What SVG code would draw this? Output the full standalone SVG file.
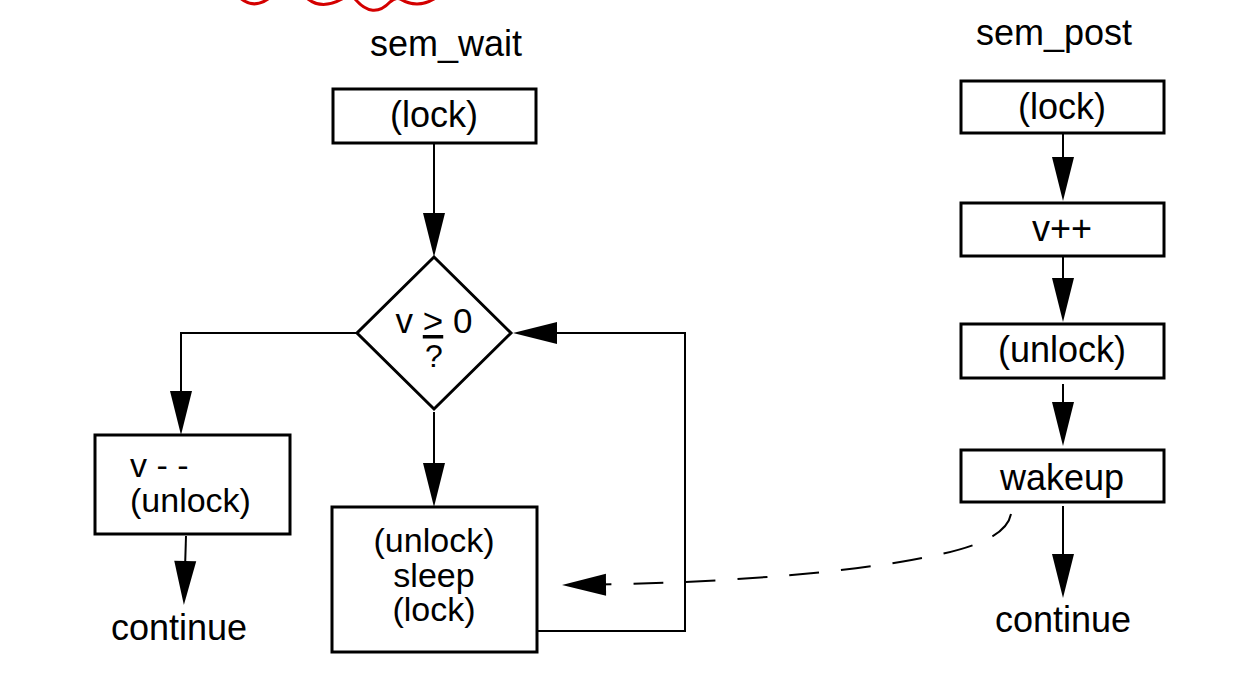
<svg xmlns="http://www.w3.org/2000/svg" width="1255" height="685" viewBox="0 0 1255 685">
<style>
  .box { fill: #fff; stroke: #000; stroke-width: 3; }
  .t { font-family: "Liberation Sans", Arial, sans-serif; font-size: 36px; fill: #000; }
  .m { font-size: 34px; }
  .c { text-anchor: middle; }
  .ln { fill: none; stroke: #000; stroke-width: 2; }
  .dash { fill: none; stroke: #000; stroke-width: 2; stroke-dasharray: 30 22; }
</style>
<defs>
  <marker id="ah" markerUnits="userSpaceOnUse" markerWidth="44" markerHeight="22" refX="40" refY="11" orient="auto" overflow="visible">
    <path d="M0,0 L44,11 L0,22 Z" fill="#000"/>
  </marker>
</defs>
<rect width="1255" height="685" fill="#fff"/>

<path id="squiggle" d="M238,-4 Q252,10 268,-1 Q288,-15 308,-1 Q322,10 342,-1 Q350,-6 355,-1 Q373,20 390,2 Q396,-3 400,-1 Q417,9 434,-1 Q440,-5 445,-8" fill="none" stroke="#d40000" stroke-width="3"/>

<g id="connectors">
  <line class="ln" x1="434" y1="143" x2="434" y2="253" marker-end="url(#ah)"/>
  <polyline class="ln" points="357,333 181,333 181,431" marker-end="url(#ah)"/>
  <line class="ln" x1="186" y1="536" x2="184" y2="601" marker-end="url(#ah)"/>
  <line class="ln" x1="434" y1="412" x2="434" y2="503" marker-end="url(#ah)"/>
  <polyline class="ln" points="537,631 685,631 685,333 517,333" marker-end="url(#ah)"/>
  <line class="ln" x1="1063" y1="133" x2="1063" y2="197" marker-end="url(#ah)"/>
  <line class="ln" x1="1063" y1="256" x2="1063" y2="318" marker-end="url(#ah)"/>
  <line class="ln" x1="1063" y1="384" x2="1063" y2="442" marker-end="url(#ah)"/>
  <line class="ln" x1="1063" y1="506" x2="1063" y2="594" marker-end="url(#ah)"/>
  <path class="dash" d="M1011,514 C1006,540 960,552 900,562 C820,575 700,584 566,585" marker-end="url(#ah)"/>
</g>

<g id="title-wait"><text class="t c" x="446" y="56">sem_wait</text></g>
<g id="title-post"><text class="t c" x="1054" y="45">sem_post</text></g>

<g id="wait-lock">
  <rect class="box" x="333" y="89" width="203" height="54"/>
  <text class="t c" x="434" y="127">(lock)</text>
</g>

<g id="wait-test">
  <polygon class="box" points="434,257 511,333 434,409 357,333"/>
  <text class="t c" x="434" y="333" style="font-size:35px">v <tspan text-decoration="underline">&gt;</tspan> 0</text>
  <text class="t c" x="434" y="367" style="font-size:32px">?</text>
</g>

<g id="wait-dec">
  <rect class="box" x="95" y="435" width="195" height="99"/>
  <text class="t m" x="130" y="477">v - -</text>
  <text class="t m" x="130" y="512">(unlock)</text>
</g>

<g id="wait-continue"><text class="t c" x="179" y="640">continue</text></g>

<g id="wait-sleep">
  <rect class="box" x="332" y="507" width="205" height="145"/>
  <text class="t m c" x="434" y="552">(unlock)</text>
  <text class="t m c" x="434" y="587">sleep</text>
  <text class="t m c" x="434" y="621">(lock)</text>
</g>

<g id="post-lock">
  <rect class="box" x="961" y="81" width="203" height="52"/>
  <text class="t c" x="1062" y="119">(lock)</text>
</g>
<g id="post-inc">
  <rect class="box" x="961" y="203" width="203" height="53"/>
  <text class="t c" x="1062" y="241">v++</text>
</g>
<g id="post-unlock">
  <rect class="box" x="961" y="324" width="203" height="54"/>
  <text class="t c" x="1062" y="362">(unlock)</text>
</g>
<g id="post-wakeup">
  <rect class="box" x="961" y="450" width="203" height="52"/>
  <text class="t c" x="1062" y="490">wakeup</text>
</g>
<g id="post-continue"><text class="t c" x="1063" y="632">continue</text></g>
</svg>
